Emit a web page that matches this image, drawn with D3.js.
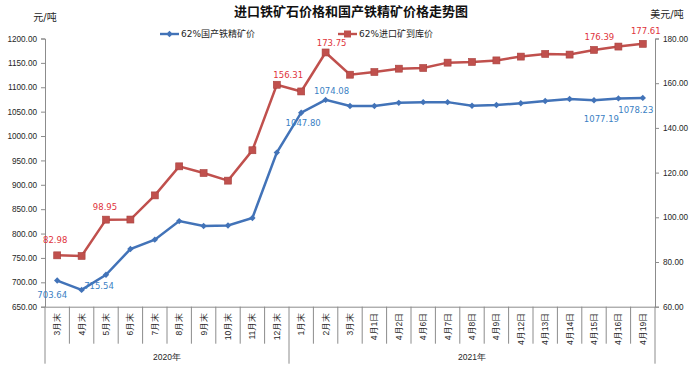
<!DOCTYPE html>
<html>
<head>
<meta charset="utf-8" />
<title>进口铁矿石价格和国产铁精矿价格走势图</title>
<script src="https://d3js.org/d3.v7.min.js"></script>
<style>
    body { margin: 0; background: #fff; }
    svg { display: block; font-family: "DejaVu Sans", "Noto Sans CJK SC", sans-serif; }
    .axis path, .axis line { stroke: #8c8c8c; }
    .axis text { fill: #262626; font-size: 8.2px; }
</style>
</head>
<body>
<svg id="chart" width="698" height="371"></svg>
<script>
// categories (x axis)
var categories = ["3月末","4月末","5月末","6月末","7月末","8月末","9月末","10月末","11月末","12月末",
    "1月末","2月末","3月末","4月1日","4月2日","4月6日","4月7日","4月8日","4月9日","4月12日",
    "4月13日","4月14日","4月15日","4月16日","4月19日"];
var groupNames = ["2020年", "2021年"];
var groupSizes = [10, 15];

// 62% domestic concentrate, yuan/t (left axis)
var domestic = [703.64, 684.5, 715.54, 768.2, 787.5, 825.5, 815.5, 816.5, 832.0, 966.0,
    1047.80, 1074.08, 1061.5, 1061.5, 1068.0, 1069.5, 1069.5, 1062.2, 1063.6, 1067.1,
    1071.8, 1075.9, 1073.3, 1077.19, 1078.23];
// 62% imported ore at port, USD/t (right axis)
var imported = [82.98, 82.7, 98.95, 99.0, 109.8, 122.8, 119.8, 116.4, 130.0, 159.3,
    156.31, 173.75, 163.8, 165.0, 166.5, 166.8, 169.2, 169.5, 170.2, 171.9,
    173.1, 172.8, 174.9, 176.39, 177.61];

var leftTicks = d3.range(650, 1201, 50);
var rightTicks = d3.range(60, 181, 20);

// which points carry a value label, and where the label sits
var domesticLabels = [{i: 0, dx: -5, dy: 15}, {i: 2, dx: -7, dy: 12}, {i: 10, dx: 2, dy: 11},
    {i: 11, dx: 6, dy: -8}, {i: 23, dx: -17, dy: 21}, {i: 24, dx: -7, dy: 13}];
var importedLabels = [{i: 0, dx: -2, dy: -15}, {i: 2, dx: -1, dy: -12}, {i: 10, dx: -13, dy: -16},
    {i: 11, dx: 6, dy: -9}, {i: 23, dx: -19, dy: -9}, {i: 24, dx: 3, dy: -12}];

var svg = d3.select("#chart");
var plotLeft = 45, plotRight = 655, plotTop = 38.5, plotBottom = 306.7;
var blue = "#4273b8", red = "#c0504d";

var x = d3.scaleBand().domain(d3.range(categories.length)).range([plotLeft, plotRight]).padding(0);
var yL = d3.scaleLinear().domain([650, 1200]).range([plotBottom, plotTop]);
var yR = d3.scaleLinear().domain([60, 180]).range([plotBottom, plotTop]);

// titles
svg.append("text").attr("x", 351).attr("y", 12.5).attr("text-anchor", "middle")
    .attr("dominant-baseline", "middle").style("font-size", "13px").style("font-weight", "bold")
    .style("fill", "#111").text("进口铁矿石价格和国产铁精矿价格走势图");
svg.append("text").attr("x", 45).attr("y", 18).attr("text-anchor", "middle")
    .attr("dominant-baseline", "middle").style("font-size", "10px").style("fill", "#262626").text("元/吨");
svg.append("text").attr("x", 667).attr("y", 15).attr("text-anchor", "middle")
    .attr("dominant-baseline", "middle").style("font-size", "10px").style("fill", "#262626").text("美元/吨");

// axes
svg.append("g").attr("class", "axis").attr("transform", "translate(" + plotLeft + ",0)")
    .call(d3.axisLeft(yL).tickValues(leftTicks).tickFormat(d3.format(".2f")).tickSizeOuter(0).tickSize(4).tickPadding(4));
svg.append("g").attr("class", "axis").attr("transform", "translate(" + plotRight + ",0)")
    .call(d3.axisRight(yR).tickValues(rightTicks).tickFormat(d3.format(".2f")).tickSizeOuter(0).tickSize(4).tickPadding(4));

var xAxis = svg.append("g").attr("class", "axis").attr("transform", "translate(0," + plotBottom + ")")
    .call(d3.axisBottom(x).tickFormat(function(i){ return categories[i]; }).tickSize(0).tickSizeOuter(0));
xAxis.selectAll("text")
    .attr("transform", "rotate(-90)")
    .attr("text-anchor", "end")
    .attr("x", -6).attr("y", 0).attr("dy", "0.35em")
    .style("font-size", "8.5px");

// category separators, longer at the year boundaries
var boundaries = [0];
groupSizes.forEach(function(s, k){ boundaries.push(boundaries[k] + s); });
xAxis.selectAll(".sep").data(d3.range(categories.length + 1)).enter().append("line")
    .attr("class", "sep")
    .attr("x1", function(i){ return i < categories.length ? x(i) : plotRight; })
    .attr("x2", function(i){ return i < categories.length ? x(i) : plotRight; })
    .attr("y1", 0)
    .attr("y2", function(i){ return boundaries.indexOf(i) >= 0 ? 57 : 37; })
    .attr("stroke", "#8c8c8c");

xAxis.selectAll(".grp").data(groupNames).enter().append("text")
    .attr("class", "grp")
    .attr("x", function(d, k){
        var a = boundaries[k], b = boundaries[k + 1];
        return (x(a) + (b < categories.length ? x(b) : plotRight)) / 2;
    })
    .attr("y", 50).attr("dy", "0.35em").attr("text-anchor", "middle")
    .style("font-size", "8.5px").text(function(d){ return d; });

// lines
var cx = function(d, i){ return x(i) + x.bandwidth() / 2; };
svg.append("path").datum(imported)
    .attr("d", d3.line().x(cx).y(function(d){ return yR(d); }))
    .attr("fill", "none").attr("stroke", red).attr("stroke-width", 2.5);
svg.append("path").datum(domestic)
    .attr("d", d3.line().x(cx).y(function(d){ return yL(d); }))
    .attr("fill", "none").attr("stroke", blue).attr("stroke-width", 2.5);

svg.selectAll(".sq").data(imported).enter().append("rect")
    .attr("class", "sq")
    .attr("x", function(d, i){ return cx(d, i) - 3.5; })
    .attr("y", function(d){ return yR(d) - 3.5; })
    .attr("width", 7).attr("height", 7)
    .attr("fill", red).attr("stroke", "#a8403d").attr("stroke-width", 0.6);
svg.selectAll(".dm").data(domestic).enter().append("path")
    .attr("class", "dm")
    .attr("transform", function(d, i){ return "translate(" + cx(d, i) + "," + yL(d) + ")"; })
    .attr("d", d3.symbol().type(d3.symbolDiamond2).size(26))
    .attr("fill", blue);

// value labels
svg.selectAll(".lr").data(importedLabels).enter().append("text")
    .attr("class", "lr")
    .attr("x", function(l){ return cx(null, l.i) + l.dx; })
    .attr("y", function(l){ return yR(imported[l.i]) + l.dy; })
    .attr("text-anchor", "middle").attr("dominant-baseline", "middle")
    .style("font-size", "8.5px").style("fill", "#e0333b")
    .text(function(l){ return d3.format(".2f")(imported[l.i]); });
svg.selectAll(".lb").data(domesticLabels).enter().append("text")
    .attr("class", "lb")
    .attr("x", function(l){ return cx(null, l.i) + l.dx; })
    .attr("y", function(l){ return yL(domestic[l.i]) + l.dy; })
    .attr("text-anchor", "middle").attr("dominant-baseline", "middle")
    .style("font-size", "8.5px").style("fill", "#3b7fc4")
    .text(function(l){ return d3.format(".2f")(domestic[l.i]); });

// legend
var legend = [{name: "62%国产铁精矿价", color: blue, x: 160, mark: "diamond"},
              {name: "62%进口矿到库价", color: red, x: 338, mark: "square"}];
var lg = svg.selectAll(".lg").data(legend).enter().append("g")
    .attr("class", "lg").attr("transform", function(d){ return "translate(" + d.x + ",34)"; });
lg.append("line").attr("x1", 0).attr("x2", 19).attr("stroke", function(d){ return d.color; }).attr("stroke-width", 2.4);
lg.append("path")
    .attr("transform", "translate(9.5,0)")
    .attr("d", function(d){
        return d.mark === "square" ? "M-3.5,-3.5h7v7h-7z" : d3.symbol().type(d3.symbolDiamond2).size(26)();
    })
    .attr("fill", function(d){ return d.color; });
lg.append("text").attr("x", 21).attr("dy", "0.35em")
    .style("font-size", "9px").style("fill", "#262626").text(function(d){ return d.name; });
</script>
</body>
</html>
